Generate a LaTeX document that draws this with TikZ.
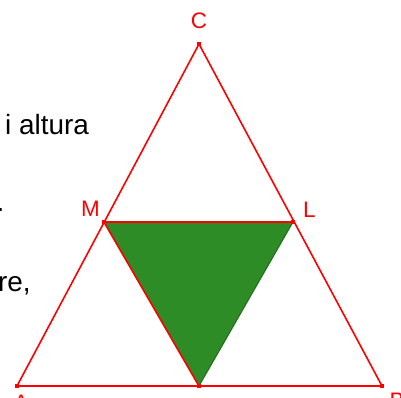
\documentclass[tikz,border=0pt]{standalone}
\usepackage{fontspec}
\setmainfont{Liberation Sans}
\definecolor{tred}{RGB}{255,0,0}
\definecolor{tgreen}{RGB}{46,140,38}
\definecolor{tdgreen}{RGB}{30,110,25}
\begin{document}
\begin{tikzpicture}[x=1bp,y=-1bp,
  edge/.style={draw=tred,line width=1.6bp},
  vmark/.style={fill=tred,minimum size=4.5bp,inner sep=0pt,draw=none,rectangle},
  vlabel/.style={text=tred,font=\fontsize{22.5}{27}\selectfont,inner sep=0pt},
  bodytext/.style={text=black,font=\fontsize{28}{33}\selectfont,inner sep=0pt}]
\useasboundingbox (0,0) rectangle (401,398);
\coordinate (A) at (17,386);
\coordinate (B) at (382,386);
\coordinate (C) at (199,44);
\coordinate (M) at (104,222);
\coordinate (L) at (293,222);
\coordinate (N) at (199,386);
\fill[tgreen,draw=tdgreen,line width=1bp] (M) -- (L) -- (N) -- cycle;
\draw[edge] (A) -- (B) -- (C) -- cycle;
\draw[edge] (M) -- (L);
\draw[edge] (M) -- (N);
\foreach \p in {A,B,C,M,L,N} \node[vmark] (m\p) at (\p) {};
\node[vlabel,anchor=base] (lC) at (199,28.5) {C};
\node[vlabel,anchor=base east] (lM) at (100,216.5) {M};
\node[vlabel,anchor=base west] (lL) at (303,217) {L};
\node[vlabel,anchor=base] (lA) at (21,410) {A};
\node[vlabel,anchor=base west] (lB) at (389.5,408) {B};
\node[bodytext,anchor=base west] (t1) at (5,134) {i altura};
\node[bodytext,anchor=base west] (t2) at (-3.5,211) {.};
\node[bodytext,anchor=base west] (t3) at (-2,291) {re,};
\end{tikzpicture}
\end{document}
